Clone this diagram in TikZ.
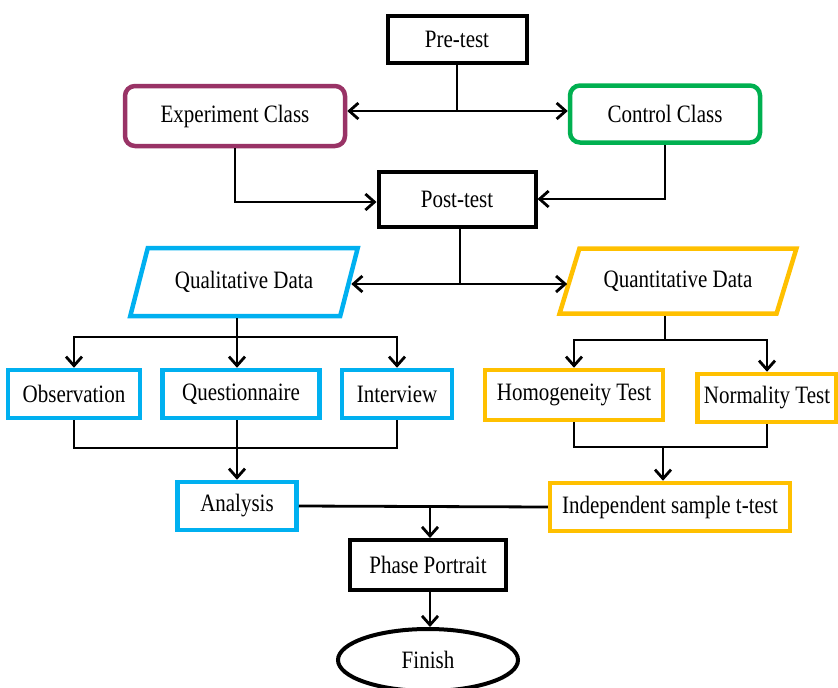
\documentclass[tikz,border=0pt]{standalone}
\usepackage{fontspec}
\setmainfont[FakeStretch=0.84]{Liberation Serif}
\usetikzlibrary{positioning,shapes.geometric,arrows.meta}

\definecolor{expPurple}{RGB}{153,51,102}
\definecolor{ctrlGreen}{RGB}{0,176,80}
\definecolor{qualBlue}{RGB}{0,176,240}
\definecolor{quantGold}{RGB}{255,192,0}

\begin{document}
\begin{tikzpicture}[
        x=1pt, y=1pt,
        base/.style={rectangle, fill=white, font=\fontsize{25}{30}\selectfont, inner sep=2pt},
        stage/.style={base, draw=black, line width=4pt},
        class/.style={base, line width=4.5pt, rounded corners=10pt},
        dataset/.style={base, shape=trapezium, trapezium stretches=true, line width=4.5pt},
        method/.style={base, line width=4.5pt, minimum height=48},
        finish/.style={base, ellipse, draw=black, line width=4pt, minimum width=180, minimum height=62},
        link/.style={line width=2.8pt},
        flow/.style={link, -{Straight Barb[length=9pt,width=16pt]}},
    ]
    \useasboundingbox (0,0) rectangle (838,-688);

    \node[stage, minimum width=139, minimum height=47] (preTest) at (457,-39) {Pre-test};
    \node[class, draw=expPurple, minimum width=220, minimum height=60] (expClass) at (235,-116) {Experiment Class};
    \node[class, draw=ctrlGreen, minimum width=190, minimum height=57] (ctrlClass) at (665,-114) {Control Class};
    \node[stage, minimum width=157, minimum height=55] (postTest) [below=105 of preTest] {Post-test};

    \node[dataset, draw=qualBlue, trapezium left angle=63, trapezium right angle=117, minimum width=228, minimum height=68] (qualData) at (244,-282) {Qualitative Data};
    \node[dataset, draw=quantGold, trapezium left angle=58, trapezium right angle=122, minimum width=237, minimum height=65] (quantData) at (678,-281) {Quantitative Data};

    \node[method, draw=qualBlue, minimum width=132] (observation) at (74,-394) {Observation};
    \node[method, draw=qualBlue, minimum width=157] (questionnaire) [right=18 of observation] {Questionnaire};
    \node[method, draw=qualBlue, minimum width=110] (interview) [right=18 of questionnaire] {Interview};
    \node[method, draw=quantGold, minimum width=178, minimum height=50] (homogeneity) at (574,-395) {Homogeneity Test};
    \node[method, draw=quantGold, minimum width=139] (normality) at (767,-398) {Normality Test};

    \node[method, draw=qualBlue, minimum width=119] (analysis) at (237,-506) {Analysis};
    \node[method, draw=quantGold, minimum width=240] (tTest) at (670,-507) {Independent sample t-test};
    \node[stage, minimum width=156, minimum height=50] (phasePortrait) at (428,-565) {Phase Portrait};
    \node[finish] (finish) [below=35 of phasePortrait] {Finish};

    % pre-test splits into both classes
    \coordinate (preSplit) at (457,-111);
    \draw[link] (preTest.south) -- (preSplit);
    \draw[flow] (preSplit) -- (preSplit -| expClass.east);
    \draw[flow] (preSplit) -- (preSplit -| ctrlClass.west);
    \draw[flow] (expClass.south) |- ([yshift=-3]postTest.west);
    \draw[flow] (ctrlClass.south) |- (postTest.east);

    % post-test splits into data kinds
    \coordinate (postSplit) at (460,-284);
    \draw[link] (postTest.south -| postSplit) -- (postSplit);
    \draw[flow] (postSplit) -- (postSplit -| qualData.east);
    \draw[flow] (postSplit) -- (postSplit -| quantData.west);

    \coordinate (qualSplit) at (237,-337);
    \draw[link] (qualData.south -| qualSplit) -- (qualSplit);
    \draw[flow] (qualSplit) -| (observation.north);
    \draw[flow] (qualSplit) -- (questionnaire.north -| qualSplit);
    \draw[flow] (qualSplit) -| (interview.north);

    \coordinate (quantSplit) at (665,-340);
    \draw[link] (quantData.south -| quantSplit) -- (quantSplit);
    \draw[flow] (quantSplit) -| (homogeneity.north);
    \draw[flow] (quantSplit) -| (normality.north);

    % joins
    \coordinate (qualJoin) at (237,-448);
    \draw[link] (observation.south) |- (qualJoin) -| (interview.south);
    \draw[link] (questionnaire.south -| qualJoin) -- (qualJoin);
    \draw[flow] (qualJoin) -- (analysis.north -| qualJoin);

    \coordinate (quantJoin) at (663,-447);
    \draw[link] (homogeneity.south) |- (quantJoin) -| (normality.south);
    \draw[flow] (quantJoin) -- (tTest.north -| quantJoin);

    \coordinate (finalJoin) at (430,-506);
    \draw[link] (analysis.east) -- (tTest.west);
    \draw[flow] (finalJoin) -- (phasePortrait.north -| finalJoin);
    \draw[flow] (phasePortrait.south -| finalJoin) -- (finish.north -| finalJoin);
\end{tikzpicture}
\end{document}
